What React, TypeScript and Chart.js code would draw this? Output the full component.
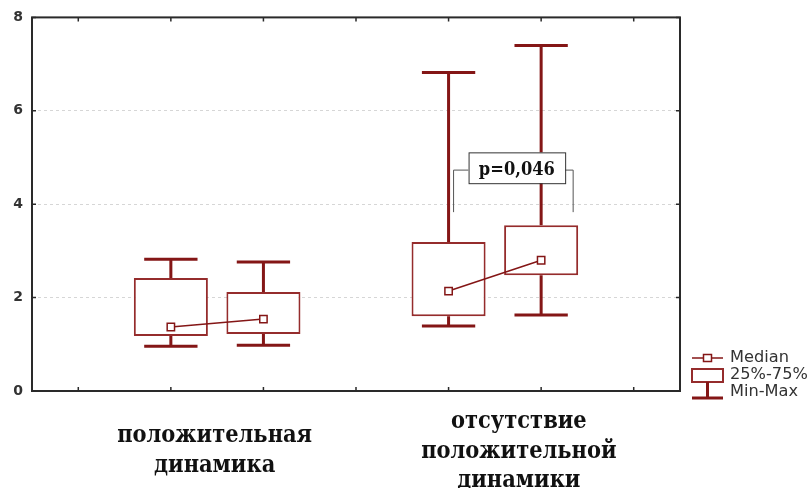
import React, { useEffect, useRef } from 'react';
import { Chart, registerables } from 'chart.js';

Chart.register(...registerables);

// ---- data ----
const slots = ['', '', '', '', '', '', ''];
const boxQ1 = [null, 1.18, 1.22, null, 1.6, 2.48, null];
const boxQ3 = [null, 2.42, 2.12, null, 3.19, 3.55, null];
const minVals = [null, 0.96, 0.98, null, 1.39, 1.63, null];
const maxVals = [null, 2.82, 2.76, null, 6.82, 7.4, null];
const medians = [null, 1.37, 1.54, null, 2.14, 2.8, null];
const yTicks = [0, 2, 4, 6, 8];
const groupLabels = [
  ['положительная', 'динамика'],
  ['отсутствие', 'положительной', 'динамики'],
];
const groupSlots = [
  [1, 2],
  [4, 5],
];
const pText = 'p=0,046';
const pBoxTop = 5.11;
const pBoxBottom = 4.45;
const pArm = 4.73;
const pLegBottom = 3.83;
const legendItems = ['Median', '25%-75%', 'Min-Max'];

const WHISKER = '#841616';
const BOXLINE = '#952c2c';
const FRAME = '#2a2a2a';
const SERIF = '"DejaVu Serif"';

const deco = {
  id: 'deco',
  beforeDatasetsDraw(chart: any) {
    const { ctx, scales } = chart;
    const x = scales.x;
    const y = scales.y;
    const barMeta = chart.getDatasetMeta(1);
    const bw = barMeta.data[1] ? barMeta.data[1].width : 70;
    ctx.save();
    ctx.strokeStyle = WHISKER;
    ctx.lineWidth = 3;
    for (let i = 0; i < slots.length; i++) {
      if (maxVals[i] == null) continue;
      const cx = x.getPixelForValue(i);
      const w = bw * 0.72;
      const yMax = y.getPixelForValue(maxVals[i]);
      const yMin = y.getPixelForValue(minVals[i]);
      ctx.beginPath();
      ctx.moveTo(cx, yMax);
      ctx.lineTo(cx, y.getPixelForValue(boxQ3[i]));
      ctx.moveTo(cx, y.getPixelForValue(boxQ1[i]));
      ctx.lineTo(cx, yMin);
      ctx.moveTo(cx - w / 2, yMax);
      ctx.lineTo(cx + w / 2, yMax);
      ctx.moveTo(cx - w / 2, yMin);
      ctx.lineTo(cx + w / 2, yMin);
      ctx.stroke();
    }
    ctx.restore();
  },
  afterDatasetsDraw(chart: any) {
    const { ctx, scales } = chart;
    const x = scales.x;
    const y = scales.y;
    const x4 = x.getPixelForValue(4);
    const x5 = x.getPixelForValue(5);
    const left = x4 + 20;
    const right = x5 + 24;
    const top = y.getPixelForValue(pBoxTop);
    const bottom = y.getPixelForValue(pBoxBottom);
    const arm = y.getPixelForValue(pArm);
    const leg = y.getPixelForValue(pLegBottom);
    ctx.save();
    ctx.strokeStyle = '#555';
    ctx.lineWidth = 1;
    ctx.beginPath();
    ctx.moveTo(left, arm);
    ctx.lineTo(x4 + 5, arm);
    ctx.lineTo(x4 + 5, leg);
    ctx.moveTo(right, arm);
    ctx.lineTo(x5 + 32, arm);
    ctx.lineTo(x5 + 32, leg);
    ctx.stroke();
    ctx.fillStyle = '#fff';
    ctx.fillRect(left, top, right - left, bottom - top);
    ctx.strokeStyle = '#333';
    ctx.strokeRect(left + 0.5, top + 0.5, right - left, bottom - top);
    ctx.font = `bold 18px ${SERIF}`;
    const sx = 76 / ctx.measureText(pText).width;
    ctx.fillStyle = '#111';
    ctx.textAlign = 'center';
    ctx.textBaseline = 'alphabetic';
    ctx.translate((left + right) / 2, bottom - 8);
    ctx.scale(sx, 1);
    ctx.fillText(pText, 0, 0);
    ctx.restore();
  },
  afterDraw(chart: any) {
    const { ctx, chartArea: a, scales } = chart;
    const x = scales.x;
    const y = scales.y;
    ctx.save();
    // frame
    ctx.strokeStyle = FRAME;
    ctx.lineWidth = 2;
    ctx.strokeRect(a.left, a.top, a.right - a.left, a.bottom - a.top);
    // tick marks pointing inward
    ctx.lineWidth = 1.5;
    ctx.beginPath();
    for (let i = 0; i < slots.length; i++) {
      const px = x.getPixelForValue(i);
      ctx.moveTo(px, a.bottom);
      ctx.lineTo(px, a.bottom - 4);
      ctx.moveTo(px, a.top);
      ctx.lineTo(px, a.top + 4);
    }
    yTicks.forEach((v) => {
      const py = y.getPixelForValue(v);
      ctx.moveTo(a.left, py);
      ctx.lineTo(a.left + 4, py);
      ctx.moveTo(a.right, py);
      ctx.lineTo(a.right - 4, py);
    });
    ctx.stroke();

    // category labels
    ctx.font = `bold 25px ${SERIF}`;
    const sx = 195 / ctx.measureText(groupLabels[0][0]).width;
    ctx.fillStyle = '#111';
    ctx.textAlign = 'center';
    ctx.textBaseline = 'alphabetic';
    const offsets = [-2.5, 24];
    const firstBase = [51, 37];
    groupLabels.forEach((lines, g) => {
      const cx = (x.getPixelForValue(groupSlots[g][0]) + x.getPixelForValue(groupSlots[g][1])) / 2 + offsets[g];
      lines.forEach((line, k) => {
        ctx.save();
        ctx.translate(cx, a.bottom + firstBase[g] + k * 29.5);
        ctx.scale(sx, 1);
        ctx.fillText(line, 0, 0);
        ctx.restore();
      });
    });

    // legend
    const L = a.right + 12;
    const R = a.right + 43;
    const mid = (L + R) / 2;
    ctx.strokeStyle = WHISKER;
    ctx.lineWidth = 1.5;
    ctx.beginPath();
    ctx.moveTo(L, 358);
    ctx.lineTo(R, 358);
    ctx.stroke();
    ctx.fillStyle = '#fff';
    ctx.fillRect(mid - 4, 354.5, 8, 7);
    ctx.strokeRect(mid - 4, 354.5, 8, 7);
    ctx.lineWidth = 2;
    ctx.strokeStyle = BOXLINE;
    ctx.strokeRect(L, 369, R - L, 13);
    ctx.strokeStyle = WHISKER;
    ctx.lineWidth = 3;
    ctx.beginPath();
    ctx.moveTo(mid, 382);
    ctx.lineTo(mid, 398);
    ctx.moveTo(L, 398);
    ctx.lineTo(R, 398);
    ctx.stroke();
    ctx.font = '15px "DejaVu Sans"';
    ctx.fillStyle = '#333';
    ctx.textAlign = 'left';
    ctx.textBaseline = 'middle';
    const ys = [358, 375, 392];
    legendItems.forEach((t, i) => {
      ctx.save();
      ctx.translate(a.right + 50, ys[i]);
      ctx.scale(1.08, 1);
      ctx.fillText(t, 0, 0);
      ctx.restore();
    });
    ctx.restore();
  },
};

export default function App() {
  const ref = useRef<HTMLCanvasElement>(null);
  useEffect(() => {
    if (!ref.current) return;
    const chart = new Chart(ref.current, {
      type: 'bar',
      data: {
        labels: slots,
        datasets: [
          {
            type: 'line',
            data: medians as any,
            borderColor: WHISKER,
            borderWidth: 1.5,
            spanGaps: false,
            pointStyle: 'rect',
            pointRadius: 5.2,
            pointBackgroundColor: '#fff',
            pointBorderColor: WHISKER,
            pointBorderWidth: 1.5,
            order: 0,
          } as any,
          {
            type: 'bar',
            data: boxQ1.map((q, i) => (q == null ? null : [q, boxQ3[i]])) as any,
            backgroundColor: '#fff',
            borderColor: BOXLINE,
            borderWidth: 2,
            borderSkipped: false,
            categoryPercentage: 1,
            barPercentage: 0.8,
            order: 1,
          } as any,
        ],
      },
      options: {
        responsive: false,
        animation: false,
        layout: { padding: { top: 17, right: 131, left: 0, bottom: 0 } },
        plugins: { legend: { display: false }, tooltip: { enabled: false } },
        scales: {
          x: {
            type: 'category',
            offset: true,
            grid: { display: false },
            border: { display: false },
            ticks: { display: false },
            afterFit: (s: any) => {
              s.height = 97;
            },
          },
          y: {
            min: 0,
            max: 8,
            afterBuildTicks: (s: any) => {
              s.ticks = yTicks.map((v) => ({ value: v }));
            },
            ticks: {
              font: { family: 'DejaVu Sans', weight: 'bold', size: 14 },
              color: '#333',
              padding: 9,
            },
            grid: {
              drawTicks: false,
              color: (c: any) => (c.tick && (c.tick.value === 0 || c.tick.value === 8) ? 'rgba(0,0,0,0)' : '#d6d6d6'),
              lineWidth: 1,
            },
            border: { display: false, dash: [3, 3] },
            afterFit: (s: any) => {
              s.width = 32;
            },
          },
        },
      },
      plugins: [deco],
    });
    return () => chart.destroy();
  }, []);
  return (
    <div style={{ position: 'fixed', left: 0, top: 0, width: 811, height: 488, background: '#fff' }}>
      <canvas ref={ref} width={811} height={488} style={{ display: 'block' }} />
    </div>
  );
}
